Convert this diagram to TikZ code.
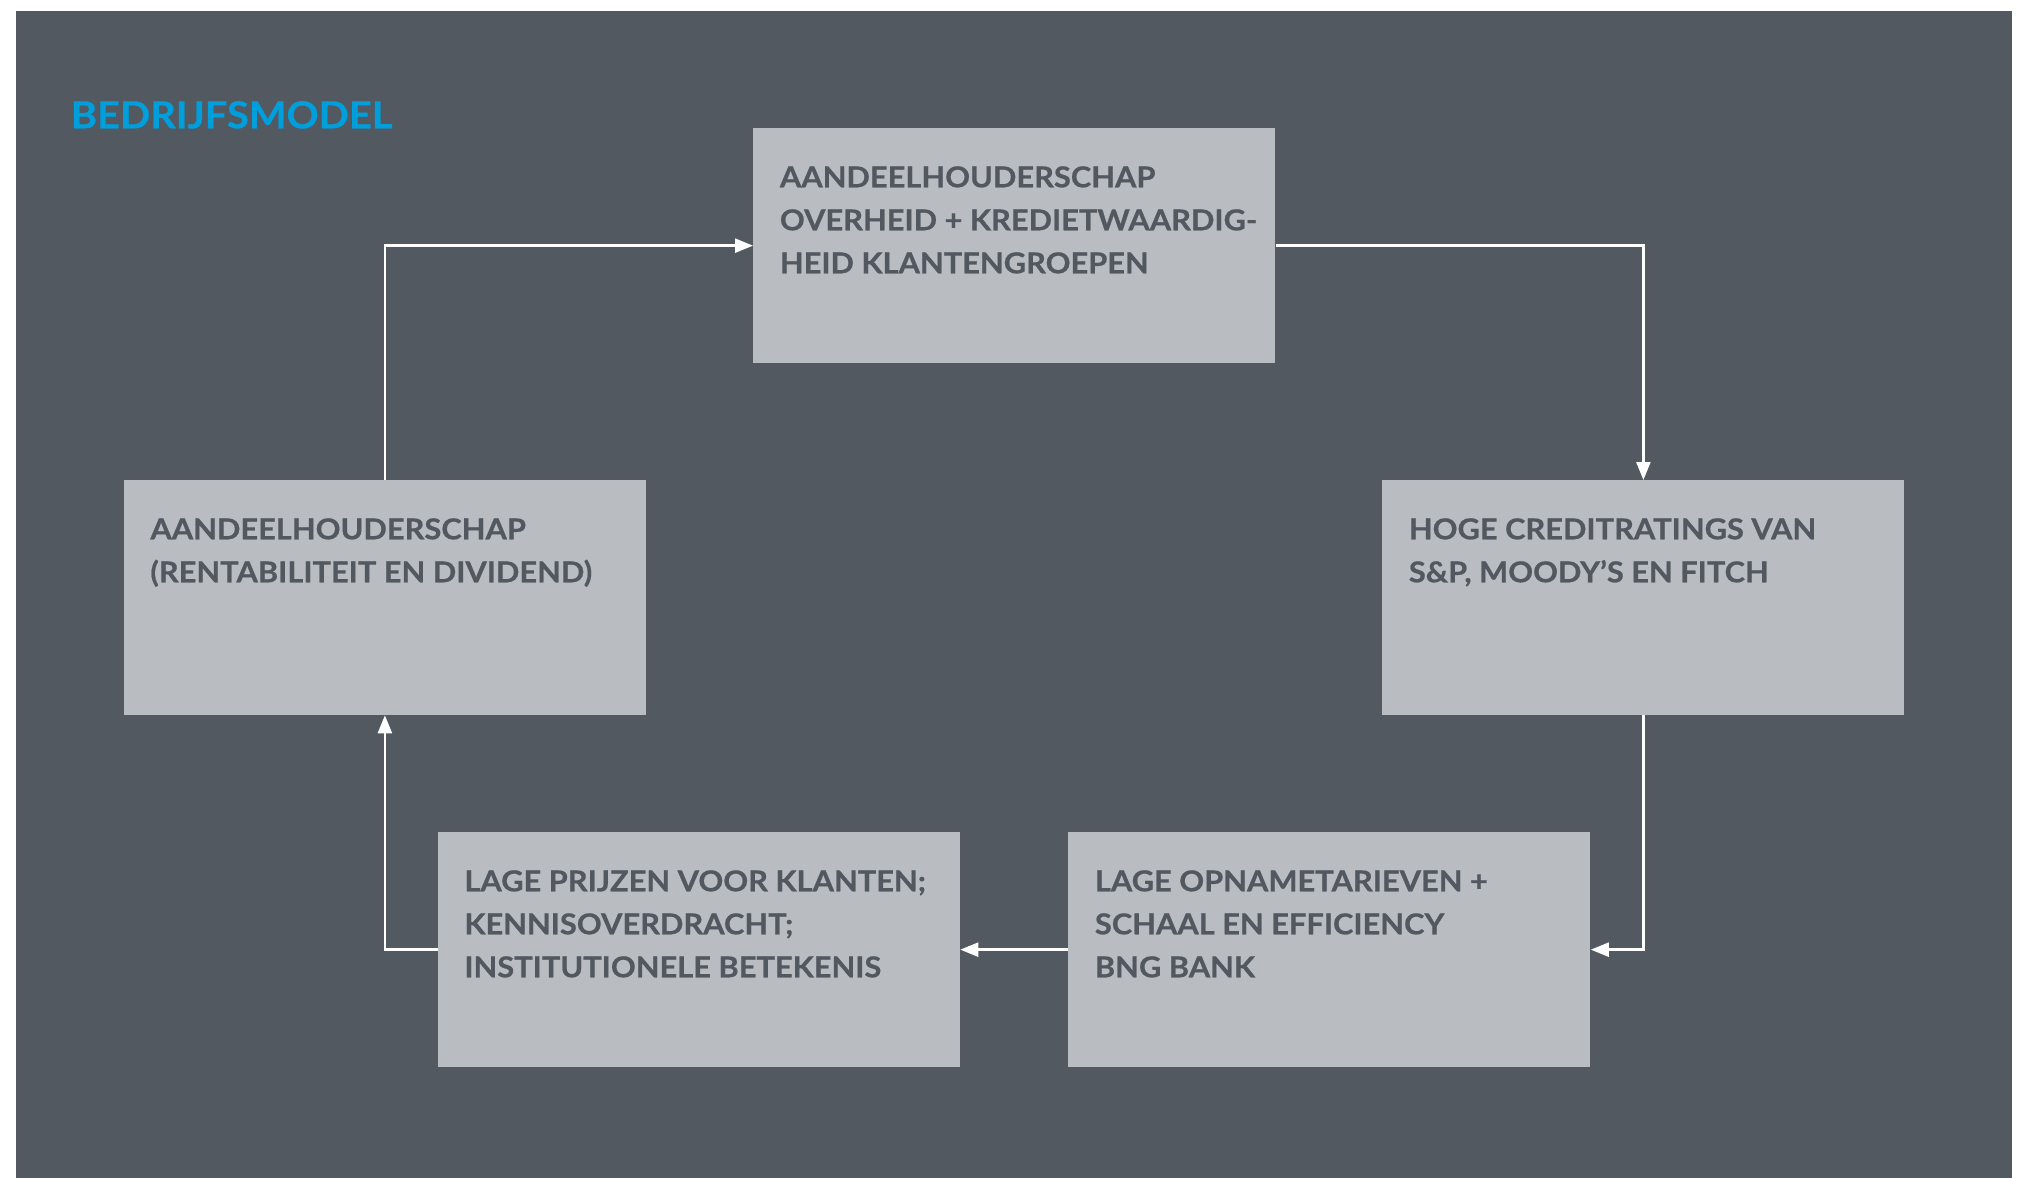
\documentclass[tikz,border=0pt]{standalone}
\usepackage{fontspec}
\setmainfont{Lato}[FakeStretch=1.07, BoldFeatures={FakeBold=0.6}]
\usetikzlibrary{arrows.meta}
\definecolor{bgdark}{RGB}{82,89,97}
\definecolor{boxgray}{RGB}{185,188,193}
\definecolor{txtgray}{RGB}{81,88,96}
\definecolor{titleblue}{RGB}{0,158,219}
\tikzset{
  boxnode/.style={draw=none, fill=boxgray, rectangle, inner sep=0pt, minimum width=261pt, minimum height=117.25pt, anchor=north west},
  boxtext/.style={anchor=base west, inner sep=0pt, text=txtgray, font=\bfseries\fontsize{14.4pt}{21.5pt}\selectfont},
  conn/.style={draw=white, line width=1.2pt, -{Triangle[length=9pt,width=7pt]}},
}
\newcommand{\boxlines}[1]{\parbox[t]{250pt}{\raggedright #1}}
\begin{document}
\begin{tikzpicture}[x=0.5pt, y=-0.5pt]
  \useasboundingbox (0,0) rectangle (2020,1178);
  \fill[white] (0,0) rectangle (2020,1178);
  \fill[bgdark] (16,11) rectangle (2012,1178);

  \node[anchor=base west, inner sep=0pt, text=titleblue, font=\bfseries\fontsize{18.6pt}{22pt}\selectfont] (title) at (70.5,128.3) {BEDRIJFSMODEL};

  \node[boxnode] (T) at (753,128) {};
  \node[boxnode] (L) at (123.5,480) {};
  \node[boxnode] (R) at (1382,480) {};
  \node[boxnode] (BL) at (437.5,832) {};
  \node[boxnode] (BR) at (1068,832) {};

  \node[boxtext] (tT) at ([shift={(26.5,59.3)}]T.north west) {\boxlines{AANDEELHOUDERSCHAP\\OVERHEID + KREDIETWAARDIG-\\HEID KLANTENGROEPEN}};
  \node[boxtext] (tL) at ([shift={(26.5,59.3)}]L.north west) {\boxlines{AANDEELHOUDERSCHAP\\(RENTABILITEIT EN DIVIDEND)}};
  \node[boxtext] (tR) at ([shift={(26.5,59.3)}]R.north west) {\boxlines{HOGE CREDITRATINGS VAN\\S\&P, MOODY’S EN FITCH}};
  \node[boxtext] (tBL) at ([shift={(26.5,59.3)}]BL.north west) {\boxlines{LAGE PRIJZEN VOOR KLANTEN;\\KENNISOVERDRACHT;\\INSTITUTIONELE BETEKENIS}};
  \node[boxtext] (tBR) at ([shift={(26.5,59.3)}]BR.north west) {\boxlines{LAGE OPNAMETARIEVEN +\\SCHAAL EN EFFICIENCY\\BNG BANK}};

  \draw[conn] (L.north) |- (T.west);
  \draw[conn] (T.east) -| (R.north);
  \draw[conn] (R.south) |- (BR.east);
  \draw[conn] (BR.west) -- (BL.east);
  \draw[conn] (BL.west) -| (L.south);
\end{tikzpicture}
\end{document}
